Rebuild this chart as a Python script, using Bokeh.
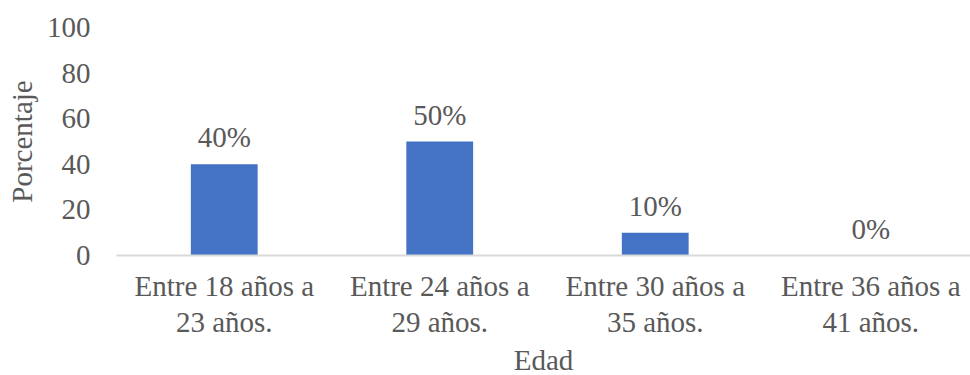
from bokeh.plotting import figure
from bokeh.models import Range1d, FixedTicker, ColumnDataSource, Title
from bokeh.embed import file_html
from bokeh.resources import INLINE
from bokeh.core.properties import value

categories = ["Entre 18 años a\n23 años.", "Entre 24 años a\n29 años.",
              "Entre 30 años a\n35 años.", "Entre 36 años a\n41 años."]
values = [40, 50, 10, 0]
value_labels = ["40%", "50%", "10%", "0%"]
y_ticks = [0, 20, 40, 60, 80, 100]
x_title = "Edad"
y_title = "Porcentaje"

FONT = "Liberation Serif"
GRAY = "#595959"
FS = "29px"

xs = list(range(len(categories)))
src = ColumnDataSource(dict(x=xs, top=values, lab=value_labels))

xr = Range1d(-0.5, 3.463)
p = figure(width=970, height=375, output_backend="svg", toolbar_location=None,
           x_range=xr, y_range=Range1d(0, 100))
p.min_border_top = 27
p.min_border_bottom = 0
p.min_border_right = 0
p.min_border_left = 116
p.outline_line_color = None
p.xgrid.grid_line_color = None
p.ygrid.grid_line_color = None

p.vbar(x="x", top="top", width=0.31, bottom=0, source=src,
       fill_color="#4472C4", line_color=None)
p.text(x="x", y="top", text="lab", source=src, text_align="center",
       text_baseline="alphabetic", y_offset=-27, text_color=GRAY,
       text_font=value(FONT), text_font_size=FS)

p.xaxis.ticker = FixedTicker(ticks=xs)
p.xaxis.major_label_overrides = {i: c for i, c in enumerate(categories)}
p.yaxis.ticker = FixedTicker(ticks=y_ticks)

for ax in (p.xaxis[0], p.yaxis[0]):
    ax.major_tick_line_color = None
    ax.minor_tick_line_color = None
    ax.major_label_text_font = FONT
    ax.major_label_text_font_size = FS
    ax.major_label_text_color = GRAY
    ax.axis_label_text_font = FONT
    ax.axis_label_text_font_size = FS
    ax.axis_label_text_color = GRAY
    ax.axis_label_text_font_style = "normal"

p.yaxis.axis_line_color = None
p.yaxis.axis_label = y_title
p.yaxis.major_label_standoff = 20
p.yaxis.axis_label_standoff = 6
p.xaxis.axis_line_color = "#D9D9D9"
p.xaxis.axis_line_width = 2
p.xaxis.major_label_standoff = 8
p.xaxis.major_label_text_line_height = 1.15

p.add_layout(Title(text=x_title, align="center", standoff=0,
                   text_font=FONT, text_font_size=FS, text_font_style="normal",
                   text_color=GRAY, text_line_height=0.9), "below")

open("out.html", "w").write(file_html(p, INLINE))
